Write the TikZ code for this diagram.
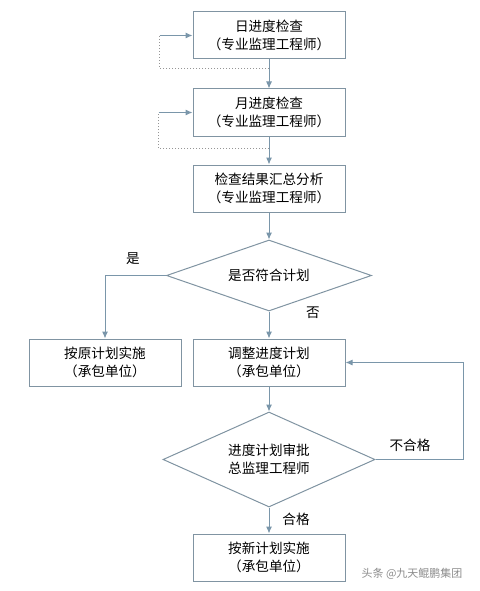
\documentclass[tikz,border=0pt]{standalone}
\usepackage{fontspec}
\setmainfont{Noto Sans CJK SC}
\usetikzlibrary{arrows.meta,positioning,shapes.geometric,calc}
\definecolor{lnclr}{RGB}{122,150,170}
\definecolor{bdclr}{RGB}{128,148,162}
\definecolor{dotclr}{RGB}{150,150,150}
\tikzset{
  stepbox/.style={rectangle, draw=bdclr, line width=1pt, fill=white,
                  minimum width=152pt, minimum height=47pt, inner sep=1pt,
                  align=center, font=\fontsize{13.6pt}{18pt}\selectfont},
  dec/.style={diamond, aspect=2.2, draw=bdclr, line width=1pt, fill=white,
              inner sep=1pt, align=center, font=\fontsize{13.6pt}{18pt}\selectfont},
  ar/.style={-{Latex[length=7pt,width=6pt]}, line width=1pt, draw=lnclr},
  dotln/.style={dotted, line width=1pt, draw=dotclr},
  lbl/.style={font=\fontsize{13.6pt}{15pt}\selectfont, inner sep=1pt},
  wmk/.style={font=\fontsize{11pt}{13pt}\selectfont, text=black!45, inner sep=0pt},
}

\begin{document}
\begin{tikzpicture}[x=1pt, y=-1pt]
\useasboundingbox (0,0) rectangle (479,591);

% ============================ main column ===============================
\node[stepbox] (daily) at (269,35.5) {日进度检查\\（专业监理工程师）};
\node[stepbox, below=29pt of daily] (monthly) {月进度检查\\（专业监理工程师）};
\node[stepbox, below=28pt of monthly] (summary) {检查结果汇总分析\\（专业监理工程师）};
\node[dec, minimum width=205pt, minimum height=71pt, below=27pt of summary] (match)
  {是否符合计划};
\node[stepbox, below=27pt of match] (adjust) {调整进度计划\\（承包单位）};
\node[dec, minimum width=212pt, minimum height=95pt, below=25pt of adjust] (approve)
  {进度计划审批\\总监理工程师};
\node[stepbox, below=26pt of approve] (newplan) {按新计划实施\\（承包单位）};

% ============================ left branch ===============================
\node[stepbox, left=11pt of adjust] (origplan) {按原计划实施\\（承包单位）};

% ============================ arrows ====================================
\draw[ar] (daily) -- (monthly);
\draw[ar] (monthly) -- (summary);
\draw[ar] (summary) -- (match);
\draw[ar] (match.west) -| (origplan.north);
\draw[ar] (match) -- (adjust);
\draw[ar] (adjust) -- (approve);
\draw[ar] (approve) -- (newplan);

\coordinate (back) at ($(approve.east)+(88,0)$);
\draw[ar] (approve.east) -- (back) |- (adjust.east);

% ============================ dotted loops ==============================
\coordinate (tap1) at ($(daily.south)!0.31!(monthly.north)$);
\coordinate (bend1) at ($(daily.west)+(-33,0)$);
\draw[dotln] (tap1) -| (bend1);
\draw[ar] (bend1) -- (daily.west);

\coordinate (tap2) at ($(monthly.south)!0.43!(summary.north)$);
\coordinate (bend2) at ($(monthly.west)+(-34,0)$);
\draw[dotln] (tap2) -| (bend2);
\draw[ar] (bend2) -- (monthly.west);

% ============================ labels ====================================
\node[lbl] (yes) at (133,259) {是};
\node[lbl] (no) at (313,313) {否};
\node[lbl] (pass) at (296,519) {合格};
\node[lbl] (fail) at (410,445) {不合格};

\node[wmk] (mark) at (412,574) {头条 @九天鲲鹏集团};

\end{tikzpicture}
\end{document}
